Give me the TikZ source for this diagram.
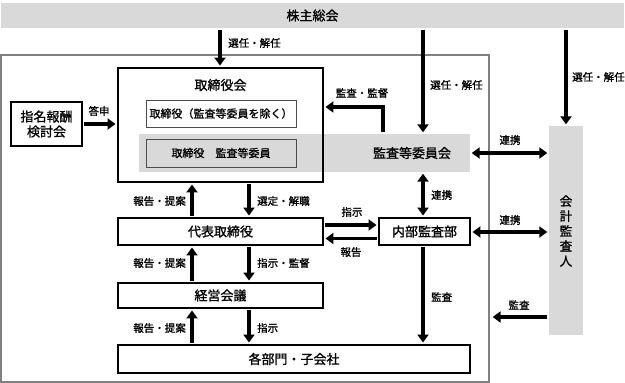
\documentclass[tikz,border=0pt]{standalone}
\usepackage{fontspec}
\setmainfont{Noto Sans CJK JP}[FakeBold=1.2]
\usetikzlibrary{arrows.meta,calc}
\definecolor{bandgray}{HTML}{D9D9D9}
\definecolor{framegray}{HTML}{808080}
\begin{document}
\begin{tikzpicture}[x=1pt,y=-1pt,
  box/.style={draw=black,line width=1.9pt,fill=white,inner sep=0pt,font=\fontsize{13}{15}\selectfont},
  inbox/.style={draw=black!70,line width=0.9pt,inner sep=0pt,font=\fontsize{11}{13}\selectfont},
  grayfill/.style={fill=bandgray,inner sep=0pt,font=\fontsize{13}{15}\selectfont},
  plain/.style={inner sep=0pt,font=\fontsize{13}{15}\selectfont},
  frm/.style={draw=framegray,line width=1.3pt,inner sep=0pt},
  arr/.style={line width=3.4pt,-{Triangle[length=8pt,width=11pt]},shorten <=1.5pt,shorten >=1.5pt},
  darr/.style={line width=3.4pt,{Triangle[length=8pt,width=11pt]}-{Triangle[length=8pt,width=11pt]},shorten <=1.5pt,shorten >=1.5pt},
  lbl/.style={font=\fontsize{10.5}{12}\selectfont,inner sep=0pt}]
\useasboundingbox (0,0) rectangle (625,383);
% top bar
\node[grayfill,minimum width=623pt,minimum height=25pt] (bar) at (312.5,15.5) {株主総会};
% outer frame
\node[frm,minimum width=488pt,minimum height=327pt] (frame) at (245,218.5) {};
% board of directors
\node[draw=none,fill=white,inner sep=0pt,minimum width=205pt,minimum height=114pt] (toribg) at (220.5,125) {};
\node[grayfill,minimum width=331pt,minimum height=38pt] (band) at (304.5,153) {};
\node[plain] (bandtext) at (412,153) {監査等委員会};
\node[draw=black,line width=1.9pt,inner sep=0pt,minimum width=205pt,minimum height=114pt] (tori) at (220.5,125) {};
\node[plain] (toritext) at (220.5,85) {取締役会};
\node[inbox,fill=white,minimum width=150pt,minimum height=27pt] (in1) at (221,113.5) {取締役（監査等委員を除く）};
\node[inbox,fill=bandgray,minimum width=150pt,minimum height=28pt] (in2) at (221,153) {取締役　監査等委員};
% other boxes
\node[box,align=center,minimum width=71pt,minimum height=44pt] (shimei) at (46.5,124) {指名報酬\\検討会};
\node[box,minimum width=205pt,minimum height=27pt] (daihyo) at (220.5,231.5) {代表取締役};
\node[box,minimum width=91pt,minimum height=27pt] (naibu) at (424.5,231.5) {内部監査部};
\node[box,minimum width=205pt,minimum height=25pt] (keiei) at (220.5,295.5) {経営会議};
\node[box,minimum width=352pt,minimum height=28pt] (kakubu) at (294,359) {各部門・子会社};
\node[grayfill,minimum width=34pt,minimum height=209pt] (kaikei) at (566,230.5) {};
\node[plain,align=center,font=\fontsize{12.5}{15}\selectfont] (kaikeitext) at (566,231) {会\\計\\監\\査\\人};
% x / y reference coordinates
\coordinate (xa) at (220,0);
\coordinate (xb) at (423,0);
\coordinate (xc) at (566,0);
\coordinate (xup) at (192,0);
\coordinate (xdn) at (249,0);
\coordinate (kk) at (383,107);
\coordinate (ytou) at (0,124);
\coordinate (yshiji) at (0,225);
\coordinate (yhoukoku) at (0,238.5);
\coordinate (yr1) at (0,153);
\coordinate (yr2) at (0,232);
\coordinate (yk) at (0,317);
% arrows from shareholders meeting
\draw[arr] (bar.south -| xa) -- (tori.north -| xa);
\node[lbl,anchor=west] (l1) at (228,43) {選任・解任};
\draw[arr] (bar.south -| xb) -- (band.north -| xb);
\node[lbl,anchor=west] (l2) at (430,85) {選任・解任};
\draw[arr] (bar.south -| xc) -- (kaikei.north -| xc);
\node[lbl,anchor=west] (l3) at (572,77) {選任・解任};
% 答申
\draw[arr] (shimei.east |- ytou) -- (tori.west |- ytou);
\node[lbl] (l4) at (99,111) {答申};
% 監査・監督
\draw[arr] (band.north -| kk) -- (kk) -- (tori.east |- kk);
\node[lbl] (l5) at (362,93) {監査・監督};
% between board and representative director
\draw[arr] (daihyo.north -| xup) -- (tori.south -| xup);
\node[lbl,anchor=east] (l6) at (186,201) {報告・提案};
\draw[arr] (tori.south -| xdn) -- (daihyo.north -| xdn);
\node[lbl,anchor=west] (l7) at (257,201) {選定・解職};
% representative director <-> internal audit
\draw[arr] (daihyo.east |- yshiji) -- (naibu.west |- yshiji);
\node[lbl] (l8) at (352,212) {指示};
\draw[arr] (naibu.west |- yhoukoku) -- (daihyo.east |- yhoukoku);
\node[lbl] (l9) at (351,252) {報告};
% 連携
\draw[darr] (band.south -| xb) -- (naibu.north -| xb);
\node[lbl,anchor=west] (l10) at (431,195) {連携};
\draw[darr] (band.east |- yr1) -- (kaikei.west |- yr1);
\node[lbl] (l11) at (510,140) {連携};
\draw[darr] (naibu.east |- yr2) -- (kaikei.west |- yr2);
\node[lbl] (l12) at (510,220) {連携};
% representative director <-> management meeting
\draw[arr] (keiei.north -| xup) -- (daihyo.south -| xup);
\node[lbl,anchor=east] (l13) at (186,263) {報告・提案};
\draw[arr] (daihyo.south -| xdn) -- (keiei.north -| xdn);
\node[lbl,anchor=west] (l14) at (257,263) {指示・監督};
% management meeting <-> departments
\draw[arr] (kakubu.north -| xup) -- (keiei.south -| xup);
\node[lbl,anchor=east] (l15) at (186,328) {報告・提案};
\draw[arr] (keiei.south -| xdn) -- (kakubu.north -| xdn);
\node[lbl,anchor=west] (l16) at (257,328) {指示};
% audits
\draw[arr] (naibu.south -| xb) -- (kakubu.north -| xb);
\node[lbl,anchor=west] (l17) at (431,297) {監査};
\draw[arr] (kaikei.west |- yk) -- ($(frame.east |- yk)+(1.5,0)$);
\node[lbl] (l18) at (519,305) {監査};
\end{tikzpicture}
\end{document}
